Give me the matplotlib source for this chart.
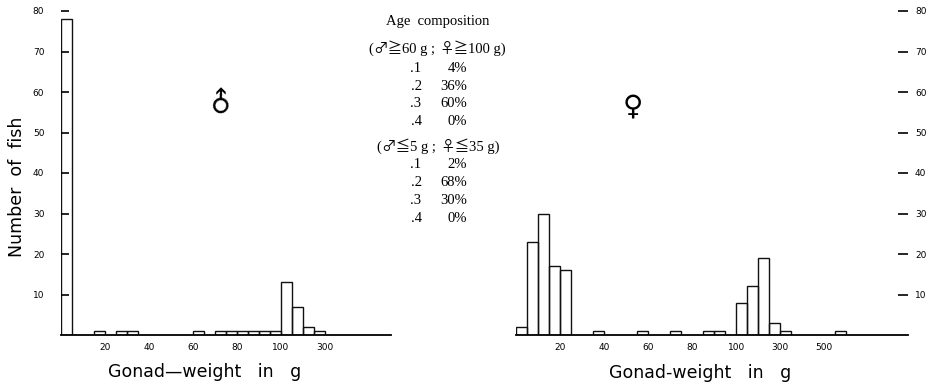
import matplotlib
matplotlib.use("Agg")
import matplotlib.pyplot as plt
from matplotlib.offsetbox import TextArea, HPacker, AnnotationBbox

# gonad weight bins (g): 5 g steps up to 100, then 50 g steps
male_edges = list(range(0, 101, 5)) + [150, 200, 250, 300]
male_counts = [78, 0, 0, 1, 0, 1, 1, 0, 0, 0, 0, 0, 1, 0, 1, 1, 1, 1, 1, 1,
               13, 7, 2, 1]
female_edges = list(range(0, 101, 5)) + list(range(150, 601, 50))
female_counts = [2, 23, 30, 17, 16, 0, 0, 1, 0, 0, 0, 1, 0, 0, 1, 0, 0, 1, 1, 0,
                 8, 12, 19, 3, 1, 0, 0, 0, 0, 1]
male_xticks = [20, 40, 60, 80, 100, 300]
female_xticks = [20, 40, 60, 80, 100, 300, 500]
yticks = [10, 20, 30, 40, 50, 60, 70, 80]

upper_rows = [(".1", "4%"), (".2", "36%"), (".3", "60%"), (".4", "0%")]
lower_rows = [(".1", "2%"), (".2", "68%"), (".3", "30%"), (".4", "0%")]


def pos(g):
    # broken scale: 5 g per unit below 100 g, 50 g per unit above
    return g / 5 if g <= 100 else 20 + (g - 100) / 50


def draw(ax, edges, counts, xticks, xmax):
    for lo, hi, c in zip(edges[:-1], edges[1:], counts):
        if c > 0:
            ax.bar(pos(lo), c, width=pos(hi) - pos(lo), align="edge",
                   fill=False, edgecolor="#111111", linewidth=1.0)
    ax.set_xlim(0, xmax)
    ax.set_ylim(0, 80)
    for s in ["top", "left", "right"]:
        ax.spines[s].set_visible(False)
    ax.spines["bottom"].set_linewidth(1.3)
    ax.set_xticks([pos(t) for t in xticks])
    ax.set_xticklabels([str(t) for t in xticks])
    ax.tick_params(axis="x", length=0, pad=6, labelsize=6.5)
    ax.set_yticks(yticks)
    ax.set_yticklabels([str(t) for t in yticks])


fig = plt.figure(figsize=(9.3, 3.85), dpi=100)
W, H = 930, 385

axm = fig.add_axes([61 / W, 50 / H, 330 / W, 324 / H])
draw(axm, male_edges, male_counts, male_xticks, 30)
axm.tick_params(axis="y", direction="in", length=6, width=1.2, pad=12,
                labelsize=6.5, left=True, right=False)

axf = fig.add_axes([516 / W, 50 / H, 392 / W, 324 / H])
draw(axf, female_edges, female_counts, female_xticks, 35.6)
axf.yaxis.tick_right()
axf.tick_params(axis="y", direction="in", length=7, width=1.2, pad=5,
                labelsize=6.5)

# sex symbols inside the panels
axm.text(0.488, 0.72, "\u2642", transform=axm.transAxes, fontsize=20,
         rotation=45, ha="center", va="center")
axf.text(0.297, 0.705, "\u2640", transform=axf.transAxes, fontsize=20,
         ha="center", va="center")

# axis titles
fig.text(17 / W, 1 - 187 / H, "Number  of  fish", rotation=90, fontsize=12.5,
         ha="center", va="center")
fig.text(205 / W, 1 - 372 / H, "Gonad\u2014weight   in   g", fontsize=12.5,
         ha="center", va="center")
fig.text(700 / W, 1 - 373 / H, "Gonad-weight   in   g", fontsize=12.5,
         ha="center", va="center")

# age composition block
serif = ["Liberation Serif", "Noto Sans CJK JP", "DejaVu Sans"]
sym = ["Noto Sans CJK JP", "DejaVu Sans"]
fs = 10.5


def mixed_line(x, y, parts):
    boxes = []
    for s, f in parts:
        boxes.append(TextArea(s, textprops=dict(family=f, fontsize=fs)))
    pack = HPacker(children=boxes, align="baseline", pad=0, sep=0)
    ab = AnnotationBbox(pack, (x / W, 1 - y / H), xycoords="figure fraction",
                        frameon=False, box_alignment=(0.5, 0.5))
    fig.add_artist(ab)


fig.text(438 / W, 1 - 21 / H, "Age  composition", family=serif, fontsize=fs,
         ha="center", va="center")
mixed_line(437, 49, [("(", serif), ("\u2642\u2267", sym), ("60 g ; ", serif),
                     ("\u2640\u2267", sym), ("100 g)", serif)])
mixed_line(438, 147, [("(", serif), ("\u2642\u2266", sym), ("5 g ; ", serif),
                      ("\u2640\u2266", sym), ("35 g)", serif)])
ys_up = [72, 89.5, 107, 125]
ys_lo = [168, 186.5, 204, 222]
for (a, p), y in zip(upper_rows + lower_rows, ys_up + ys_lo):
    fig.text(416 / W, 1 - y / H, a, family=serif, fontsize=fs,
             ha="center", va="baseline")
    fig.text(467 / W, 1 - y / H, p, family=serif, fontsize=fs,
             ha="right", va="baseline")

fig.savefig("out.png", dpi=100)
